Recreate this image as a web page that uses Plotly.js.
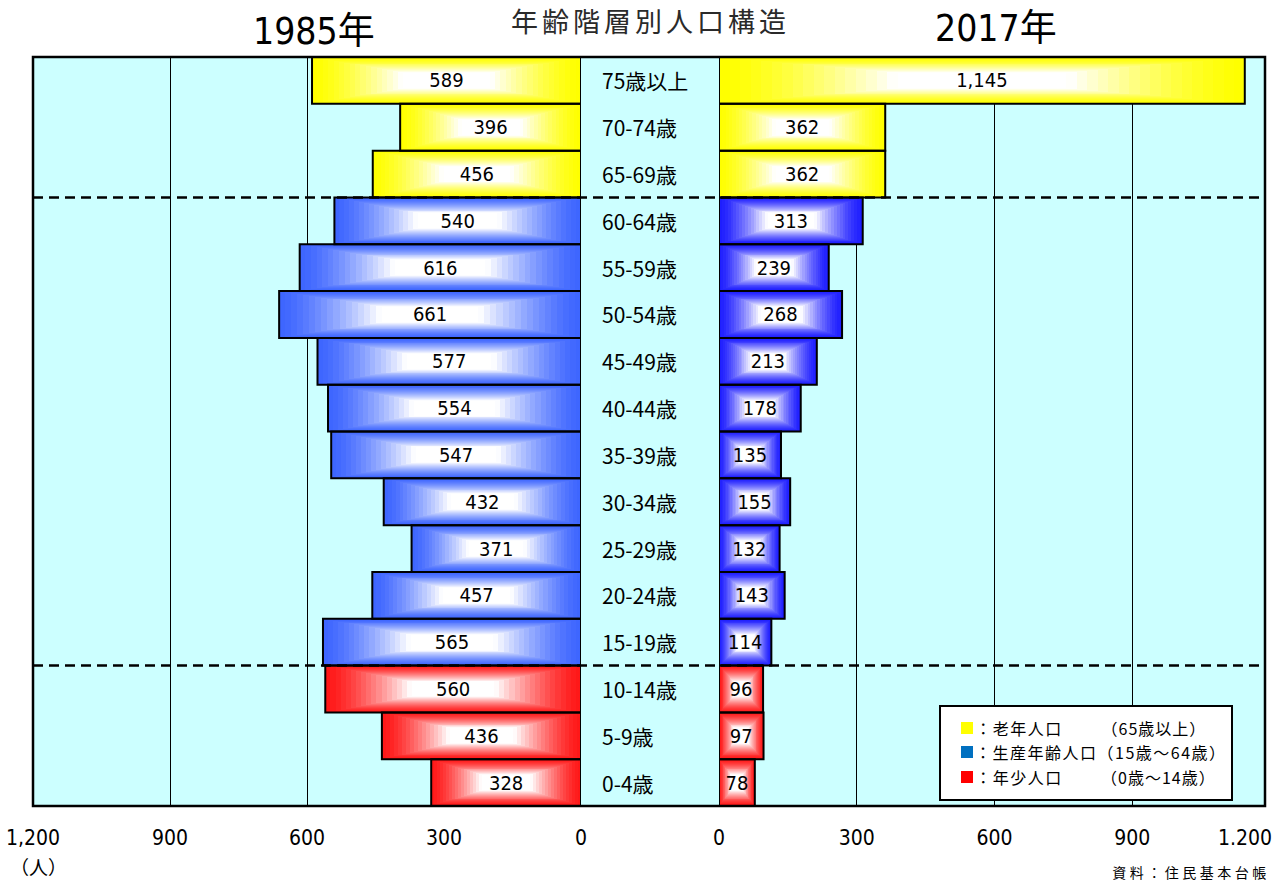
<!DOCTYPE html>
<html>
<head>
<meta charset="utf-8">
<script src="https://cdn.plot.ly/plotly-3.0.1.min.js"></script>
<style>
html,body{margin:0;padding:0;background:#fff;}
#chart{width:1273px;height:881px;}
</style>
</head>
<body>
<div id="chart"></div>
<script>
// ---- data (bottom to top) ----
const ageGroups = ['0-4歳','5-9歳','10-14歳','15-19歳','20-24歳','25-29歳','30-34歳','35-39歳','40-44歳','45-49歳','50-54歳','55-59歳','60-64歳','65-69歳','70-74歳','75歳以上'];
const ageBand = ['young','young','young','working','working','working','working','working','working','working','working','working','working','old','old','old'];
const pop1985 = [328, 436, 560, 565, 457, 371, 432, 547, 554, 577, 661, 616, 540, 456, 396, 589];
const pop2017 = [78, 97, 96, 114, 143, 132, 155, 135, 178, 213, 268, 239, 313, 362, 362, 1145];
const leftTickVals = [1200, 900, 600, 300, 0];
const leftTickText = ['1,200', '900', '600', '300', '0'];
const rightTickVals = [0, 300, 600, 900, 1200];
const rightTickText = ['0', '300', '600', '900', '1.200'];
const legendLabels = [
  ['：老年人口', '（65歳以上）'],
  ['：生産年齢人口（15歳～64歳）', ''],
  ['：年少人口', '（0歳～14歳）']
];
const legendColors = ['#ffff00', '#0070c0', '#ff0000'];
const titleText = '年齢階層別人口構造';
const sourceText = '資料：住民基本台帳';

// ---- styles ----
const leftColors = {old: [255,255,0], working: [62,102,255], young: [255,24,24]};
const rightColors = {old: [255,255,0], working: [30,30,255], young: [255,24,24]};
const layerScales = [];
for (let k = 0; k < 18; k++) layerScales.push(1 - k * 0.04);
const numFont = 'Liberation Sans Narrow, DejaVu Sans Condensed, Noto Sans CJK JP, sans-serif';
const jpFont = 'Noto Sans CJK JP, sans-serif';

function mix(c, t) {
  const r = Math.round(c[0] + (255 - c[0]) * t);
  const g = Math.round(c[1] + (255 - c[1]) * t);
  const b = Math.round(c[2] + (255 - c[2]) * t);
  return 'rgb(' + r + ',' + g + ',' + b + ')';
}

function sideTraces(values, palette, xa) {
  const traces = [];
  layerScales.forEach(function (s) {
    const t = Math.min(1, Math.pow((1 - s) / 0.65, 1.4));
    traces.push({
      type: 'bar', orientation: 'h', xaxis: xa, yaxis: 'y',
      y: ageGroups,
      x: values.map(function (v) { return v * s; }),
      base: values.map(function (v) { return v * (1 - s) / 2; }),
      width: s,
      marker: {color: ageBand.map(function (b) { return mix(palette[b], t); }), line: {width: 0}},
      hoverinfo: 'skip', showlegend: false
    });
  });
  traces.push({
    type: 'bar', orientation: 'h', xaxis: xa, yaxis: 'y',
    y: ageGroups, x: values, width: 1,
    marker: {color: 'rgba(0,0,0,0)', line: {color: '#000', width: 2}},
    text: values.map(function (v) { return v.toLocaleString('en-US'); }),
    textposition: 'inside', insidetextanchor: 'middle', constraintext: 'none',
    textfont: {family: numFont, size: 20, color: '#000'},
    insidetextfont: {family: numFont, size: 20, color: '#000'},
    cliponaxis: false,
    hoverinfo: 'skip', showlegend: false
  });
  return traces;
}

const data = sideTraces(pop1985, leftColors, 'x').concat(sideTraces(pop2017, rightColors, 'x2'));

const plotL = 33, plotR = 1265, plotT = 57, plotB = 806;
const W = plotR - plotL, H = plotB - plotT;
function px(x) { return (x - plotL) / W; }
function py(y) { return (plotB - y) / H; }

const annotations = [];
const spacing = {};
// letter-spaced annotation: Plotly centres the svg text, so compensate the extra width
function spaced(ann, sp, anchorLeft) {
  spacing[ann.text] = sp + 'px';
  ann.xshift = (ann.xshift || 0) + (anchorLeft ? ann.text.length * sp / 2 : sp / 2);
  return ann;
}

ageGroups.forEach(function (g) {
  annotations.push({xref: 'paper', yref: 'y', x: px(600), y: g, xanchor: 'left', yanchor: 'middle',
    text: g, showarrow: false, font: {family: jpFont, size: 21, color: '#000'}});
});
annotations.push(spaced({xref: 'paper', yref: 'paper', x: px(648), y: py(20), xanchor: 'center', yanchor: 'middle',
  text: titleText, showarrow: false, font: {family: jpFont, size: 27, color: '#2a2a2a'}}, 4, false));
annotations.push({xref: 'paper', yref: 'paper', x: px(314), y: py(31), xanchor: 'center', yanchor: 'middle',
  text: '1985年', showarrow: false, font: {family: numFont, size: 37, color: '#000'}});
annotations.push({xref: 'paper', yref: 'paper', x: px(996), y: py(29), xanchor: 'center', yanchor: 'middle',
  text: '2017年', showarrow: false, font: {family: numFont, size: 37, color: '#000'}});
annotations.push({xref: 'paper', yref: 'paper', x: px(8), y: py(866), xanchor: 'left', yanchor: 'middle',
  text: '（人）', showarrow: false, font: {family: jpFont, size: 19, color: '#000'}});
annotations.push(spaced({xref: 'paper', yref: 'paper', x: px(1110), y: py(872), xanchor: 'left', yanchor: 'middle',
  text: sourceText, showarrow: false, font: {family: jpFont, size: 14, color: '#000'}}, 3.5, true));
// last right tick label: sits at the plot edge, pulled inward like the reference
annotations.push({xref: 'paper', yref: 'paper', x: px(1245), y: py(838), xanchor: 'center', yanchor: 'middle',
  text: rightTickText[4], showarrow: false, font: {family: numFont, size: 21, color: '#000'}});

const shapes = [];
// cyan background across the whole plot area (incl. middle label column)
shapes.push({type: 'rect', xref: 'paper', yref: 'paper', x0: 0, x1: 1, y0: 0, y1: 1,
  fillcolor: '#ccffff', line: {width: 0}, layer: 'below'});
// legend box
shapes.push({type: 'rect', xref: 'paper', yref: 'paper', x0: px(940), x1: px(1232), y0: py(800), y1: py(706),
  fillcolor: '#fff', line: {color: '#000', width: 2}, layer: 'above'});
const rowY = [728, 752, 777];
legendLabels.forEach(function (lab, i) {
  shapes.push({type: 'rect', xref: 'paper', yref: 'paper', x0: px(961), x1: px(973), y0: py(rowY[i] + 6), y1: py(rowY[i] - 6),
    fillcolor: legendColors[i], line: {width: 0}, layer: 'above'});
  annotations.push(spaced({xref: 'paper', yref: 'paper', x: px(973), y: py(rowY[i]), xanchor: 'left', yanchor: 'middle',
    text: lab[0], showarrow: false, font: {family: jpFont, size: 16, color: '#000'}}, 1.5, true));
  if (lab[1]) {
    annotations.push(spaced({xref: 'paper', yref: 'paper', x: px(1099), y: py(rowY[i]), xanchor: 'left', yanchor: 'middle',
      text: lab[1], showarrow: false, font: {family: jpFont, size: 16, color: '#000'}}, 1, true));
  }
});
// dashed separators
[2.5, 12.5].forEach(function (yv) {
  shapes.push({type: 'line', xref: 'paper', yref: 'y', x0: 0, x1: 1, y0: yv, y1: yv,
    line: {color: '#000', width: 2.5, dash: '10px,6px'}, layer: 'above'});
});
// plot border
shapes.push({type: 'rect', xref: 'paper', yref: 'paper', x0: 0, x1: 1, y0: 0, y1: 1,
  line: {color: '#000', width: 2.5}, layer: 'above'});

const axisCommon = {
  showgrid: true, gridcolor: '#000', gridwidth: 1, zeroline: false, showline: false,
  ticks: '', ticklabelstandoff: 17, fixedrange: true,
  tickfont: {family: numFont, size: 21, color: '#000'}
};

const layout = {
  width: 1273, height: 881,
  margin: {l: plotL, r: 1273 - plotR, t: plotT, b: 881 - plotB},
  paper_bgcolor: '#fff', plot_bgcolor: 'rgba(0,0,0,0)',
  barmode: 'overlay', bargap: 0, showlegend: false,
  xaxis: Object.assign({}, axisCommon, {domain: [0, px(581)], range: [1200, 0], anchor: 'y',
    tickmode: 'array', tickvals: leftTickVals, ticktext: leftTickText}),
  xaxis2: Object.assign({}, axisCommon, {domain: [px(719), 1], range: [0, 1189], anchor: 'y',
    tickmode: 'array', tickvals: rightTickVals.slice(0, 4), ticktext: rightTickText.slice(0, 4)}),
  yaxis: {type: 'category', categoryarray: ageGroups, range: [-0.5, 15.5], showticklabels: false,
    showgrid: false, zeroline: false, showline: false, ticks: '', fixedrange: true, domain: [0, 1]},
  annotations: annotations,
  shapes: shapes
};

Plotly.newPlot('chart', data, layout, {displayModeBar: false, staticPlot: true}).then(function () {
  document.querySelectorAll('.annotation-text').forEach(function (el) {
    const s = spacing[el.textContent];
    if (s) el.style.letterSpacing = s;
  });
});
</script>
</body>
</html>
